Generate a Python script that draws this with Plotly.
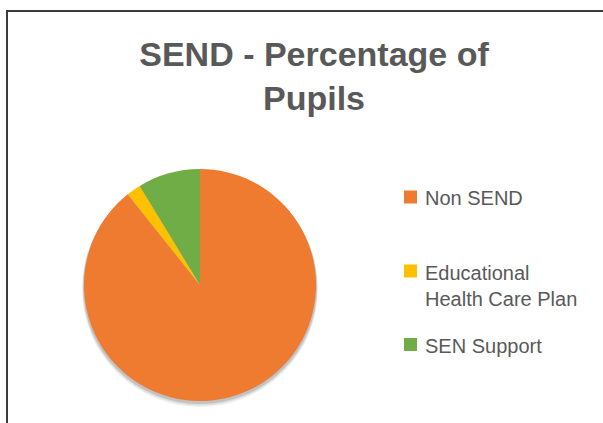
import plotly.graph_objects as go

labels = ["Non SEND", "Educational<br>Health Care Plan", "SEN Support"]
values = [89.3, 2.0, 8.7]
colors = ["#EE7B30", "#FFC000", "#70AD47"]
title_text = "SEND - Percentage of<br>Pupils"

W, H = 603, 423
cx, cy, r = 200, 285, 116
FONT = "Liberation Sans, Arial, sans-serif"
GREY = "#595959"

fig = go.Figure()
fig.add_trace(go.Pie(
    labels=labels,
    values=values,
    sort=False,
    direction="clockwise",
    rotation=0,
    textinfo="none",
    hoverinfo="label+percent",
    marker=dict(colors=colors, line=dict(width=0)),
    domain=dict(x=[(cx - r) / W, (cx + r) / W], y=[(H - cy - r) / H, (H - cy + r) / H]),
    showlegend=False,
))

def px_x(x):
    return x / W

def px_y(y):
    return (H - y) / H

shapes = []
# soft shadow under pie
for off, op in [(4, 0.06), (3, 0.08), (2, 0.12)]:
    rr = r + off / 2
    shapes.append(dict(type="circle", xref="paper", yref="paper", layer="below",
                       x0=px_x(cx - rr), x1=px_x(cx + rr),
                       y0=px_y(cy + off + rr), y1=px_y(cy + off - rr),
                       fillcolor="rgba(0,0,0,%s)" % op, line=dict(width=0)))
# chart border (left and top edges visible)
shapes.append(dict(type="line", xref="paper", yref="paper",
                   x0=px_x(7), x1=px_x(7), y0=px_y(430), y1=px_y(10),
                   line=dict(color="#3a3a3a", width=2)))
shapes.append(dict(type="line", xref="paper", yref="paper",
                   x0=px_x(6), x1=px_x(610), y0=px_y(11), y1=px_y(11),
                   line=dict(color="#3a3a3a", width=2)))

# legend (manual, Excel-like spacing)
legend_centers = [197, 284.5, 344.5]
marker_centers = [197, 271, 344.5]
annotations = []
for lab, col, yc, ym in zip(labels, colors, legend_centers, marker_centers):
    shapes.append(dict(type="rect", xref="paper", yref="paper",
                       x0=px_x(404), x1=px_x(417), y0=px_y(ym + 6.5), y1=px_y(ym - 6.5),
                       fillcolor=col, line=dict(width=0)))
    annotations.append(dict(text=lab, xref="paper", yref="paper",
                            x=px_x(423), xanchor="left", y=px_y(yc + 1), yanchor="middle",
                            showarrow=False, align="left",
                            font=dict(family=FONT, size=20, color=GREY)))

fig.update_layout(
    width=W, height=H,
    margin=dict(l=0, r=0, t=0, b=0),
    paper_bgcolor="white",
    plot_bgcolor="white",
    shapes=shapes,
    annotations=annotations,
    title=dict(text="<b>" + title_text + "</b>",
               x=px_x(314), xanchor="center", xref="paper",
               y=1 - 66 / H, yanchor="top", yref="container",
               font=dict(family=FONT, size=34, color=GREY)),
    showlegend=False,
)

fig.write_html("out.html", config={"displayModeBar": False},
               post_script="document.body.style.margin='0';")
